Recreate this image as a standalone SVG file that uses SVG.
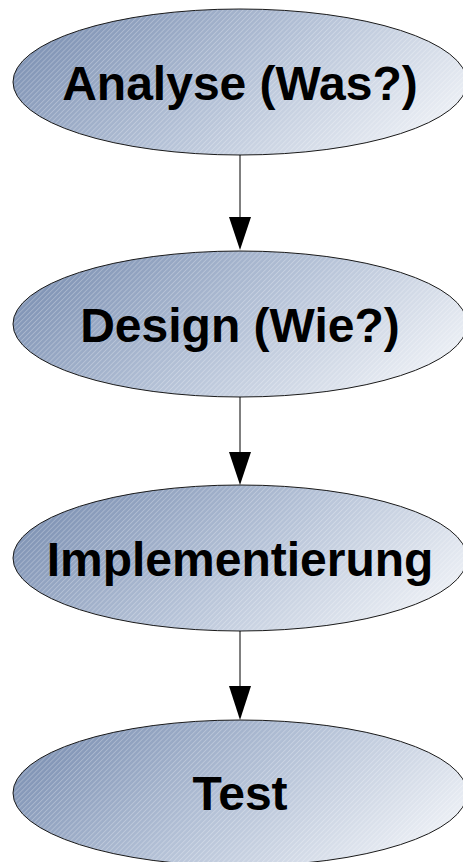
<svg xmlns="http://www.w3.org/2000/svg" width="463" height="862" viewBox="0 0 463 862">
  <defs>
    <linearGradient id="g" x1="0" y1="0.3" x2="1" y2="0.7">
      <stop offset="0" stop-color="#7d91b3"/>
      <stop offset="0.5" stop-color="#b5c2d7"/>
      <stop offset="1" stop-color="#eef1f6"/>
    </linearGradient>
    <pattern id="h" patternUnits="userSpaceOnUse" width="3.5" height="3.5" patternTransform="rotate(45)">
      <line x1="0.5" y1="0" x2="0.5" y2="3.5" stroke="#ffffff" stroke-opacity="0.3" stroke-width="0.8"/>
    </pattern>
  </defs>
  <style>
    .node ellipse.bg { fill: url(#g); stroke: none; }
    .node ellipse.hatch { fill: url(#h); stroke: #1a1a1a; stroke-width: 1; }
    .node text { font-family: "Liberation Sans", Arial, sans-serif; font-weight: bold; font-size: 48px; fill: #000; text-anchor: middle; }
    .conn line { stroke: #000; stroke-width: 1; }
    .conn polygon { fill: #000; }
  </style>
  <g id="analyse" class="node">
    <ellipse class="bg" cx="240" cy="82" rx="227" ry="73"/>
    <ellipse class="hatch" cx="240" cy="82" rx="227" ry="73"/>
    <text x="240" y="100">Analyse (Was?)</text>
  </g>
  <g id="design" class="node">
    <ellipse class="bg" cx="240" cy="324" rx="227" ry="73"/>
    <ellipse class="hatch" cx="240" cy="324" rx="227" ry="73"/>
    <text x="240" y="342">Design (Wie?)</text>
  </g>
  <g id="implementierung" class="node">
    <ellipse class="bg" cx="240" cy="558" rx="227" ry="73"/>
    <ellipse class="hatch" cx="240" cy="558" rx="227" ry="73"/>
    <text x="240" y="576">Implementierung</text>
  </g>
  <g id="test" class="node">
    <ellipse class="bg" cx="240" cy="793" rx="227" ry="73"/>
    <ellipse class="hatch" cx="240" cy="793" rx="227" ry="73"/>
    <text x="240" y="810">Test</text>
  </g>
  <g id="connectors" class="conn">
    <line x1="240" y1="155" x2="240" y2="218"/>
    <polygon points="229,217 251,217 240,250"/>
    <line x1="240" y1="397" x2="240" y2="453"/>
    <polygon points="229,452 251,452 240,485"/>
    <line x1="240" y1="631" x2="240" y2="687"/>
    <polygon points="229,686 251,686 240,720"/>
  </g>
</svg>
